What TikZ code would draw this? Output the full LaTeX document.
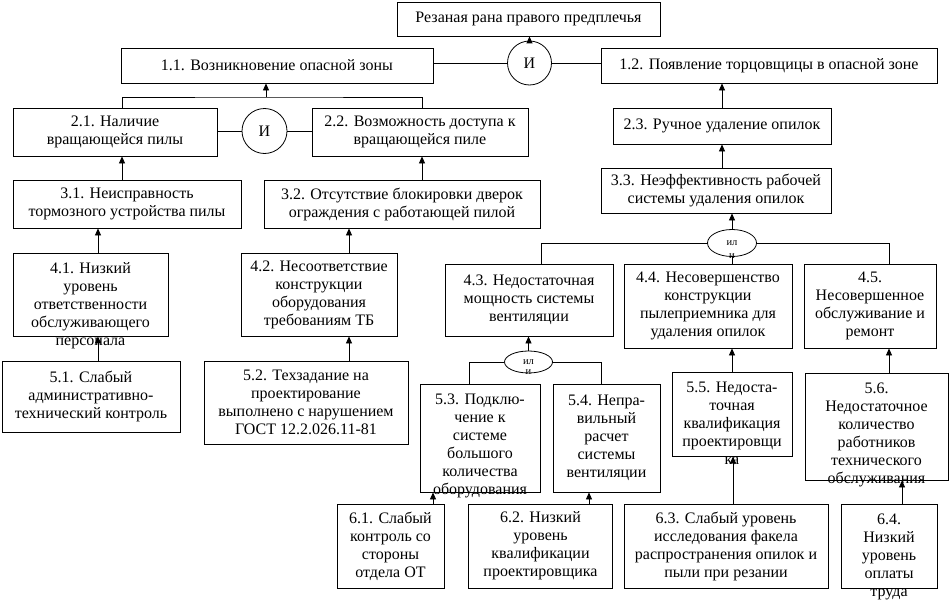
\documentclass[tikz,border=0pt]{standalone}
\usepackage{fontspec}
\setmainfont{Liberation Serif}
\usepackage{tikz}
\usetikzlibrary{arrows.meta,shapes.geometric,positioning,calc}
\newcommand{\mainsize}{\fontsize{16pt}{18pt}\selectfont}
\newcommand{\gatesize}{\fontsize{10.5pt}{11pt}\selectfont}
\newcommand{\toptext}[3]{\parbox[c][#2pt][t]{#1pt}{\centering\rule{0pt}{20pt}#3}}

\begin{document}
\begin{tikzpicture}[x=1pt,y=-1pt,
    causebox/.style 2 args={draw,line width=0.8pt,minimum width=#1pt,
    minimum height=#2pt,inner sep=0pt,align=center,font=\mainsize},
    andgate/.style={draw,circle,line width=0.8pt,minimum size=44pt,inner sep=0pt,font=\mainsize},
    orgate/.style={draw,ellipse,line width=0.8pt,minimum width=49pt,minimum height=27pt,
    inner sep=0pt,font=\gatesize},
    orword/.style={inner sep=0pt,font=\gatesize},
    link/.style={line width=0.8pt},
    arr/.style={line width=0.8pt,-{Triangle[length=7pt,width=6pt]}}]
    \useasboundingbox (0,0) rectangle (950,602);
    % top event and first level
    \node[causebox={263}{34}] (top) at (528.5,19) {Резаная рана правого предплечья};
    \node[andgate] (g1) at (529.5,63) {И};
    \node[causebox={312}{35}] (n11) at (277,65.5) {1.1. Возникновение опасной зоны};
    \node[causebox={336}{35}] (n12) at (769,65.5) {1.2. Появление торцовщицы в опасной зоне};
    % second and third level
    \node[causebox={204}{48}] (n21) at (115,132) {2.1. Наличие\\вращающейся пилы};
    \node[andgate,minimum size=45pt] (g2) at (264.5,131) {И};
    \node[causebox={216}{48}] (n22) at (420,132) {2.2. Возможность доступа к\\вращающейся пиле};
    \node[causebox={218}{36}] (n23) at (722,126) {2.3. Ручное удаление опилок};
    \node[causebox={228}{48}] (n31) at (127,204) {3.1. Неисправность\\тормозного устройства пилы};
    \node[causebox={276}{48}] (n32) at (402,204) {3.2. Отсутствие блокировки дверок\\ограждения с работающей пилой};
    \node[causebox={230}{45}] (n33) at (716,190.5) {3.3. Неэффективность рабочей\\системы удаления опилок};
    \node[orgate] (g3) at (732,243) {ил};
    % fourth level
    \node[causebox={155}{83}] (n41) at (90.5,294.5)
    {\toptext{155}{83}{4.1. Низкий\\уровень\\ответственности\\обслуживающего\\персонала}};
    \node[causebox={156}{83}] (n42) at (319,294.5) {4.2. Несоответствие\\конструкции\\оборудования\\требованиям ТБ};
    \node[causebox={168}{72}] (n43) at (529,300) {4.3. Недостаточная\\мощность системы\\вентиляции};
    \node[causebox={168}{84}] (n44) at (708,306) {4.4. Несовершенство\\конструкции\\пылеприемника для\\удаления опилок};
    \node[causebox={132}{84}] (n45) at (870,306) {4.5.\\Несовершенное\\обслуживание и\\ремонт};
    \node[orgate,minimum width=48pt,minimum height=22pt] (g4) at (528.5,362) {ил};
    % fifth level
    \node[causebox={178}{71}] (n51) at (91,396.5) {5.1. Слабый\\административно-\\технический контроль};
    \node[causebox={204}{83}] (n52) at (306,402.5) {5.2. Техзадание на\\проектирование\\выполнено с нарушением\\ГОСТ 12.2.026.11-81};
    \node[causebox={120}{108}] (n53) at (480,438)
    {\toptext{120}{108}{5.3. Подклю-\\чение к\\системе\\большого\\количества\\оборудования}};
    \node[causebox={107}{108}] (n54) at (606.5,438) {5.4. Непра-\\вильный\\расчет\\системы\\вентиляции};
    \node[causebox={120}{84}] (n55) at (732,414)
    {\toptext{120}{84}{5.5. Недоста-\\точная\\квалификация\\проектировщи\\ка}};
    \node[causebox={143}{107}] (n56) at (876.5,426.5)
    {\toptext{143}{107}{5.6.\\Недостаточное\\количество\\работников\\технического\\обслуживания}};
    % sixth level
    \node[causebox={107}{84}] (n61) at (390.5,546) {6.1. Слабый\\контроль со\\стороны\\отдела ОТ};
    \node[causebox={144}{84}] (n62) at (540.5,546) {6.2. Низкий\\уровень\\квалификации\\проектировщика};
    \node[causebox={204}{84}] (n63) at (726,546) {6.3. Слабый уровень\\исследования факела\\распространения опилок и\\пыли при резании};
    \node[causebox={96}{84}] (n64) at (889,546)
    {\toptext{96}{84}{6.4.\\Низкий\\уровень\\оплаты\\труда}};

    % gates
    \draw[arr] (g1.north) -- (top.south -| g1.north);
    \draw[link] (n11.east |- g1.west) -- (g1.west);
    \draw[link] (g1.east) -- (n12.west |- g1.east);
    \coordinate (j11) at (266,97);
    \draw[link] (n21.north -| 122,0) |- (j11) -| (n22.north -| 422,0);
    \draw[arr] (j11) -- (n11.south -| j11);
    \draw[link] (n21.east |- g2.west) -- (g2.west);
    \draw[link] (g2.east) -- (n22.west |- g2.east);
    \draw[arr] (g3.north) -- (n33.south -| g3.north);
    \draw[link] (n43.north -| 541,0) |- (g3.west);
    \draw[link] (g3.east) -| (n45.north -| 889,0);
    \draw[link] (g3.south) -- (n44.north -| g3.south);
    \node[orword] (g3w) at ([yshift=1pt]g3.south) {и};
    \draw[arr] (g4.north) -- (n43.south -| g4.north);
    \draw[link] (n53.north -| 469,0) |- (g4.west);
    \draw[link] (g4.east) -| (n54.north -| 601,0);
    \node[orword] (g4w) at ([yshift=1pt]g4.south) {и};
    % arrows between boxes
    \foreach \from/\to/\xx in {n31/n21/122,n32/n22/422,n41/n31/98,n51/n41/98,
        n42/n32/349,n52/n42/349,n23/n12/722,n33/n23/722,n55/n44/732,n63/n55/733,
        n56/n45/889,n64/n56/902,n61/n53/433,n62/n54/589} {
        \draw[arr] (\from.north -| \xx,0) -- (\to.south -| \xx,0);
    }
\end{tikzpicture}
\end{document}
